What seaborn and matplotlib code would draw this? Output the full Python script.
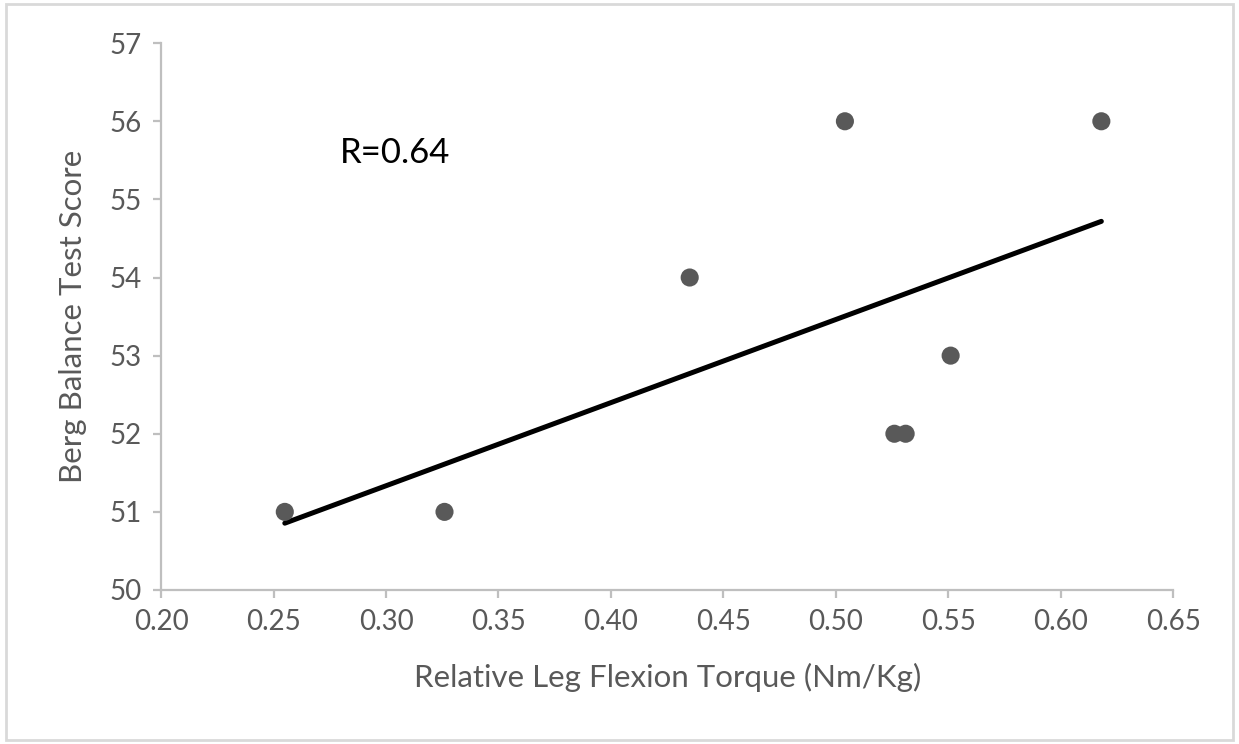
import matplotlib
matplotlib.use("Agg")
import matplotlib.pyplot as plt
import seaborn as sns
import pandas as pd
import numpy as np
from matplotlib.patches import Rectangle

# data
torque = [0.255, 0.326, 0.435, 0.504, 0.526, 0.531, 0.551, 0.618]
berg_score = [51, 51, 54, 56, 52, 52, 53, 56]
x_ticks = [0.20, 0.25, 0.30, 0.35, 0.40, 0.45, 0.50, 0.55, 0.60, 0.65]
y_ticks = [50, 51, 52, 53, 54, 55, 56, 57]

df = pd.DataFrame({"torque": torque, "score": berg_score})

sns.set_style("white")
plt.rcParams["font.family"] = ["Lato", "DejaVu Sans"]

grey_text = "#595959"
spine_col = "#bfbfbf"

fig = plt.figure(figsize=(12.39, 7.44), dpi=100)
ax = fig.add_axes([0.130, 0.207, 0.817, 0.735])

sns.regplot(data=df, x="torque", y="score", scatter=False, ci=None,
            color="black", line_kws={"linewidth": 3.6, "solid_capstyle": "round"}, ax=ax)
sns.scatterplot(data=df, x="torque", y="score", s=170, color=grey_text,
                edgecolor="none", ax=ax, zorder=3)

r = np.corrcoef(torque, berg_score)[0, 1]
ax.text(0.2795, 55.6, f"R={r:.2f}", fontsize=25, color="black", va="center", ha="left")

ax.set_xlim(0.20, 0.65)
ax.set_ylim(50, 57)
ax.set_xticks(x_ticks)
ax.set_xticklabels([f"{t:.2f}" for t in x_ticks])
ax.set_yticks(y_ticks)
ax.set_xlabel("Relative Leg Flexion Torque (Nm/Kg)", fontsize=22.5, color=grey_text, labelpad=20)
ax.set_ylabel("Berg Balance Test Score", fontsize=22.5, color=grey_text, labelpad=16)

for side in ["top", "right"]:
    ax.spines[side].set_visible(False)
for side in ["left", "bottom"]:
    ax.spines[side].set_color(spine_col)
    ax.spines[side].set_linewidth(1.6)
ax.tick_params(axis="both", direction="out", length=6, width=1.6, color=spine_col,
               labelsize=20, labelcolor=grey_text, pad=8)
ax.tick_params(axis="x", bottom=True)
ax.tick_params(axis="y", left=True)

# light frame around the figure
fig.patches.append(Rectangle((0.005, 0.005), 0.99, 0.99, transform=fig.transFigure,
                             fill=False, edgecolor="#d9d9d9", linewidth=2))

fig.savefig("out.png", dpi=100, facecolor="white")
